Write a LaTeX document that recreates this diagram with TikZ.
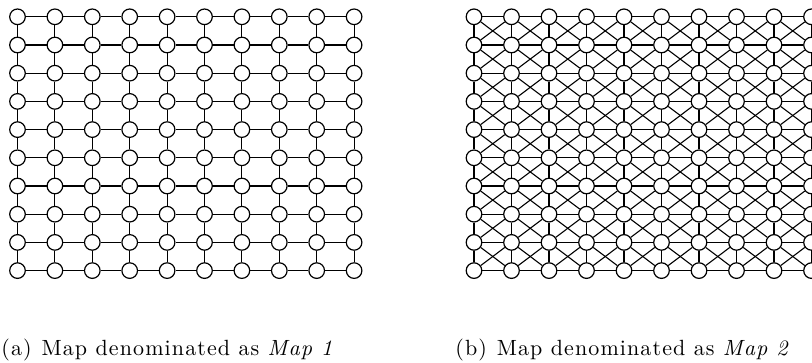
\documentclass[tikz,border=0pt]{standalone}
\usepackage{fontspec}
\setmainfont{Latin Modern Roman}
\begin{document}
\begin{tikzpicture}[x=0.5pt,y=-0.5pt,
  vtx/.style={circle,draw,fill=white,line width=0.6pt,minimum size=7.8pt,inner sep=0pt},
  edge/.style={line width=0.55pt},
  captext/.style={anchor=base west,inner sep=0pt,font=\fontsize{11}{14}\selectfont\addfontfeatures{LetterSpace=5}}]
\useasboundingbox (0,0) rectangle (812,363);
\foreach \i in {0,...,9}{
  \foreach \j in {0,...,9}{
    \node[vtx] (a-\i-\j) at ({17.5+37.4*\i},{16.8+28.2*\j}) {};
    \node[vtx] (b-\i-\j) at ({474+37.5*\i},{16.8+28.2*\j}) {};
  }
}
% horizontal edges
\foreach \i [evaluate=\i as \ni using int(\i+1)] in {0,...,8}{
  \foreach \j in {0,...,9}{
    \draw[edge] (a-\i-\j) -- (a-\ni-\j);
    \draw[edge] (b-\i-\j) -- (b-\ni-\j);
  }
}
% vertical edges
\foreach \i in {0,...,9}{
  \foreach \j [evaluate=\j as \nj using int(\j+1)] in {0,...,8}{
    \draw[edge] (a-\i-\j) -- (a-\i-\nj);
    \draw[edge] (b-\i-\j) -- (b-\i-\nj);
  }
}
% diagonals
\foreach \i [evaluate=\i as \ni using int(\i+1)] in {0,...,8}{
  \foreach \j [evaluate=\j as \nj using int(\j+1)] in {0,...,8}{
    \draw[edge] (b-\i-\j) -- (b-\ni-\nj);
    \draw[edge] (b-\ni-\j) -- (b-\i-\nj);
  }
}
\node[captext] (capa) at (1,355) {(a)\hspace{0.45em}Map denominated as \textit{Map 1}};
\node[captext] (capb) at (455,355) {(b)\hspace{0.45em}Map denominated as \textit{Map 2}};
\end{tikzpicture}
\end{document}
